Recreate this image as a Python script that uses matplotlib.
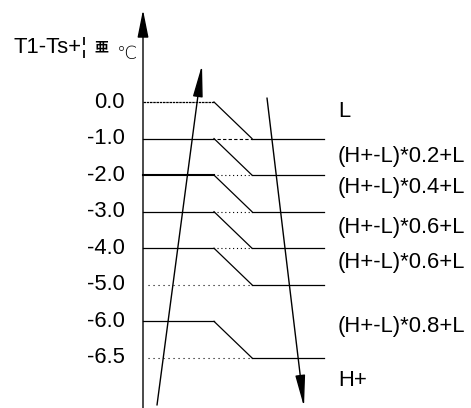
import matplotlib.pyplot as plt

# level tick labels (drawn one per row, evenly spaced)
levels = ['0.0', '-1.0', '-2.0', '-3.0', '-4.0', '-5.0', '-6.0', '-6.5']
# right-hand labels and the row position they sit at
right_labels = ['L', '(H+-L)*0.2+L', '(H+-L)*0.4+L', '(H+-L)*0.6+L',
                '(H+-L)*0.6+L', '(H+-L)*0.8+L', 'H+']
right_rows = [0.27, 1.5, 2.35, 3.42, 4.38, 6.15, 7.62]

# rows that have a plateau on the left and step down to the next row
plateau = [0, 1, 2, 3, 4, 6]
# rows reached by a step (have a line on the right)
reached = [1, 2, 3, 4, 5, 7]
# rows with only a dotted guide on the left
guide_only = [5, 7]

# x positions (pixels) of the step pieces
x_axis, x_break, x_join, x_end = 143, 214, 252, 324

# the two long arrows and the axis arrow (x in px, y in rows)
up_arrow = [(157, 8.29), (202, -1.01)]
down_arrow = [(267, -0.11), (304, 8.34)]
axis_arrow = [(x_axis, 8.4), (x_axis, -2.52)]

fig = plt.figure(figsize=(4.71, 4.08), dpi=100)
ax = fig.add_axes([0, 0, 1, 1])
ax.set_xlim(0, 471)
ax.set_ylim(8.37, -2.79)
ax.axis('off')

font = 'Liberation Sans'
fs = 15.8
lw = 0.9

for i in plateau:
    if i == 0:
        ax.plot([x_axis, x_break], [i, i], color='k', lw=lw, ls=(0, (2, 0.6)))
    else:
        ax.plot([x_axis, x_break], [i, i], color='k', lw=1.5 if i == 2 else lw)
    ax.plot([x_break, x_join], [i, i + 1], color='k', lw=lw)

for i in reached:
    ax.plot([x_join, x_end], [i, i], color='k', lw=lw)
    if i in plateau:
        ls = (0, (3, 2)) if i == 1 else (0, (1, 2.5))
        ax.plot([x_break + 3, x_join], [i, i], color='k', lw=0.8, ls=ls)

for i in guide_only:
    ax.plot([x_axis + 5, x_join], [i, i], color='k', lw=0.8, ls=(0, (1, 3.5)))

for (x0, y0), (x1, y1) in [up_arrow, down_arrow]:
    ax.annotate('', xy=(x1, y1), xytext=(x0, y0),
                arrowprops=dict(arrowstyle='-|>,head_length=0.97,head_width=0.15',
                                color='k', lw=1, shrinkA=0, shrinkB=0,
                                mutation_scale=20))
(x0, y0), (x1, y1) = axis_arrow
ax.annotate('', xy=(x1, y1), xytext=(x0, y0),
            arrowprops=dict(arrowstyle='-|>,head_length=0.85,head_width=0.17',
                            color='k', lw=1, shrinkA=0, shrinkB=0,
                            mutation_scale=20))

for i, lab in enumerate(levels):
    ax.text(125, i, lab, ha='right', va='center', fontsize=fs, family=font)

for y, lab in zip(right_rows, right_labels):
    ax.text(338, y, lab, ha='left', va='center', fontsize=fs, family=font)

# axis title (partly garbled in the original)
ax.text(13, -1.49, 'T1-Ts+¦', ha='left', va='center', fontsize=fs, family=font)
ax.text(94, -1.5, '亜', ha='left', va='center', fontsize=10,
        family=['Noto Sans CJK JP', 'DejaVu Sans'], fontweight='bold')
ax.text(117, -1.31, '℃', ha='left', va='center', fontsize=13,
        family=['DejaVu Sans'], fontweight='light')

fig.savefig('out.png', dpi=100)
